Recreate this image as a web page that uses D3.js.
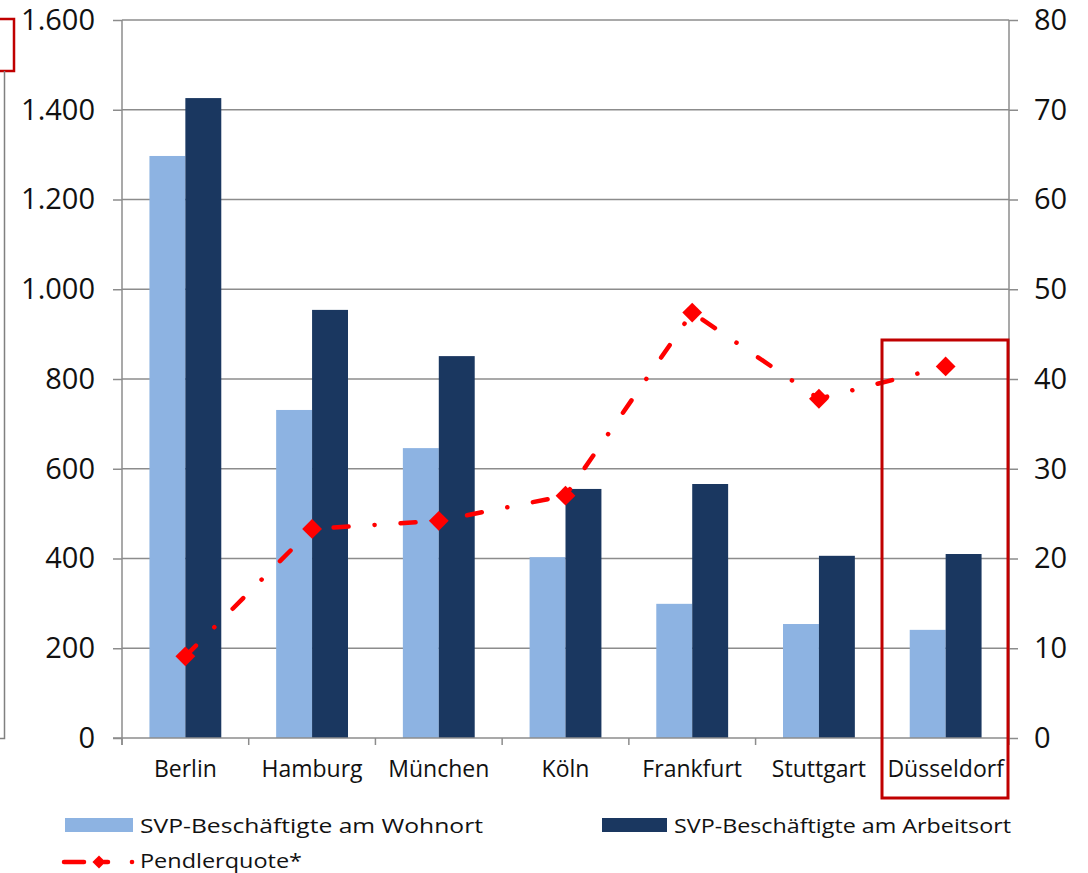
<!DOCTYPE html>
<html>
<head>
<meta charset="utf-8">
<script src="https://cdn.jsdelivr.net/npm/d3@7"></script>
<style>
  html, body { margin: 0; padding: 0; background: #fff; }
  svg { display: block; font-family: "Open Sans", "Noto Sans", sans-serif; }
</style>
</head>
<body>
<svg id="chart" width="1088" height="873"></svg>
<script>
// Städte
const categories = ["Berlin", "Hamburg", "München", "Köln", "Frankfurt", "Stuttgart", "Düsseldorf"];
// SVP-Beschäftigte in Tsd.
const wohnort = [1297, 731, 646, 403, 299, 254, 241];
const arbeitsort = [1426, 954, 851, 555, 566, 406, 410];
// Pendlerquote in %
const pendlerquote = [9.1, 23.3, 24.2, 27.0, 47.4, 37.8, 41.4];
// Achsen
const leftTicks = [0, 200, 400, 600, 800, 1000, 1200, 1400, 1600];
const rightTicks = [0, 10, 20, 30, 40, 50, 60, 70, 80];
const seriesNames = ["SVP-Beschäftigte am Wohnort", "SVP-Beschäftigte am Arbeitsort", "Pendlerquote*"];

const colLight = "#8DB3E2";
const colDark = "#1A3760";
const colRed = "#FF0000";
const colGrid = "#8C8C8C";
const colText = "#111";

const svg = d3.select("#chart");
const plot = { left: 122, right: 1009, top: 20, bottom: 738 };

const pad = 0.433;
const x = d3.scaleBand().domain(categories).range([plot.left, plot.right])
  .paddingInner(pad).paddingOuter(pad / 2);
const xSub = d3.scaleBand().domain([0, 1]).range([0, x.bandwidth()]);
const yL = d3.scaleLinear().domain([0, 1600]).range([plot.bottom, plot.top]);
const yR = d3.scaleLinear().domain([0, 80]).range([plot.bottom, plot.top]);
const fmt = d3.formatLocale({ decimal: ",", thousands: ".", grouping: [3], currency: ["", "€"] }).format(",");

// Rahmenfragment links
svg.append("path")
  .attr("d", "M-10,19 H14 V71 H-10")
  .attr("fill", "none").attr("stroke", "#C00000").attr("stroke-width", 2.5);
svg.append("path")
  .attr("d", "M4.5,71 V738.5 H-5")
  .attr("fill", "none").attr("stroke", "#808080").attr("stroke-width", 1.5);

// Gitterlinien
svg.append("g").selectAll("line").data(leftTicks.slice(1)).join("line")
  .attr("x1", plot.left).attr("x2", plot.right)
  .attr("y1", d => yL(d)).attr("y2", d => yL(d))
  .attr("stroke", colGrid).attr("stroke-width", 1.5);

// Balken
const groups = svg.append("g").selectAll("g").data(categories).join("g")
  .attr("transform", d => `translate(${x(d)},0)`);
groups.append("rect")
  .attr("x", xSub(0)).attr("width", xSub.bandwidth())
  .attr("y", (d, i) => yL(wohnort[i])).attr("height", (d, i) => yL(0) - yL(wohnort[i]))
  .attr("fill", colLight);
groups.append("rect")
  .attr("x", xSub(1)).attr("width", xSub.bandwidth())
  .attr("y", (d, i) => yL(arbeitsort[i])).attr("height", (d, i) => yL(0) - yL(arbeitsort[i]))
  .attr("fill", colDark);

// Linke Achse
const axL = svg.append("g").attr("transform", `translate(${plot.left},0)`)
  .call(d3.axisLeft(yL).tickValues(leftTicks).tickFormat(fmt).tickSize(9).tickPadding(18));
axL.select(".domain").attr("stroke", colGrid).attr("stroke-width", 1.5).attr("d", `M0,${plot.top}V${plot.bottom + 7}`);
axL.selectAll(".tick line").attr("stroke", colGrid).attr("stroke-width", 1.5);
axL.selectAll("text").attr("font-size", 29).attr("fill", colText).attr("font-family", "Open Sans");

// Rechte Achse
const axR = svg.append("g").attr("transform", `translate(${plot.right},0)`)
  .call(d3.axisRight(yR).tickValues(rightTicks).tickSize(9).tickPadding(16));
axR.select(".domain").attr("stroke", colGrid).attr("stroke-width", 1.5).attr("d", `M0,${plot.top}V${plot.bottom}`);
axR.selectAll(".tick line").attr("stroke", colGrid).attr("stroke-width", 1.5);
axR.selectAll("text").attr("font-size", 29).attr("fill", colText).attr("font-family", "Open Sans");

// Kategorienachse
const xAxisG = svg.append("g");
xAxisG.append("line").attr("x1", plot.left - 9).attr("x2", plot.right)
  .attr("y1", plot.bottom).attr("y2", plot.bottom)
  .attr("stroke", colGrid).attr("stroke-width", 1.5);
const bounds = categories.map(c => x(c) - x.step() * pad / 2).concat([plot.right]);
xAxisG.selectAll("line.tk").data(bounds).join("line").attr("class", "tk")
  .attr("x1", d => d).attr("x2", d => d)
  .attr("y1", plot.bottom).attr("y2", plot.bottom + 7)
  .attr("stroke", colGrid).attr("stroke-width", 1.5);
xAxisG.selectAll("text").data(categories).join("text")
  .attr("x", d => x(d) + x.bandwidth() / 2).attr("y", 777)
  .attr("text-anchor", "middle").attr("font-size", 23).attr("fill", colText)
  .text(d => d);

// Pendlerquote-Linie
const cx = i => x(categories[i]) + x.bandwidth() / 2;
const line = d3.line().x((d, i) => cx(i)).y(d => yR(d));
svg.append("path").datum(pendlerquote)
  .attr("d", line)
  .attr("fill", "none").attr("stroke", colRed).attr("stroke-width", 4.5)
  .attr("stroke-linecap", "round").attr("stroke-dasharray", "15,26,0.1,26");
const diamond = d3.symbol().type(d3.symbolDiamond2).size(250);
svg.append("g").selectAll("path").data(pendlerquote).join("path")
  .attr("d", diamond)
  .attr("transform", (d, i) => `translate(${cx(i)},${yR(d)})`)
  .attr("fill", colRed);

// Hervorhebung Düsseldorf
svg.append("rect").attr("x", 882).attr("y", 340).attr("width", 126).attr("height", 458)
  .attr("fill", "none").attr("stroke", "#C00000").attr("stroke-width", 3);

// Legende (Schrift horizontal gestreckt)
const leg = svg.append("g").attr("font-size", 20).attr("fill", colText);
leg.append("rect").attr("x", 65).attr("y", 818).attr("width", 68).attr("height", 14).attr("fill", colLight);
leg.append("text").attr("x", 140).attr("y", 833)
  .attr("textLength", 343).attr("lengthAdjust", "spacingAndGlyphs").text(seriesNames[0]);
leg.append("rect").attr("x", 602).attr("y", 818).attr("width", 65).attr("height", 14).attr("fill", colDark);
leg.append("text").attr("x", 674).attr("y", 833)
  .attr("textLength", 337).attr("lengthAdjust", "spacingAndGlyphs").text(seriesNames[1]);
leg.append("path").attr("d", "M64,862 H84").attr("stroke", colRed).attr("stroke-width", 4.5).attr("stroke-linecap", "round");
leg.append("path").attr("d", "M104,862 H108").attr("stroke", colRed).attr("stroke-width", 4.5).attr("stroke-linecap", "round");
leg.append("path").attr("d", d3.symbol().type(d3.symbolDiamond2).size(110)).attr("transform", "translate(99,862)").attr("fill", colRed);
leg.append("circle").attr("cx", 132).attr("cy", 862).attr("r", 2.3).attr("fill", colRed);
leg.append("text").attr("x", 140).attr("y", 868)
  .attr("textLength", 162).attr("lengthAdjust", "spacingAndGlyphs").text(seriesNames[2]);
</script>
</body>
</html>
